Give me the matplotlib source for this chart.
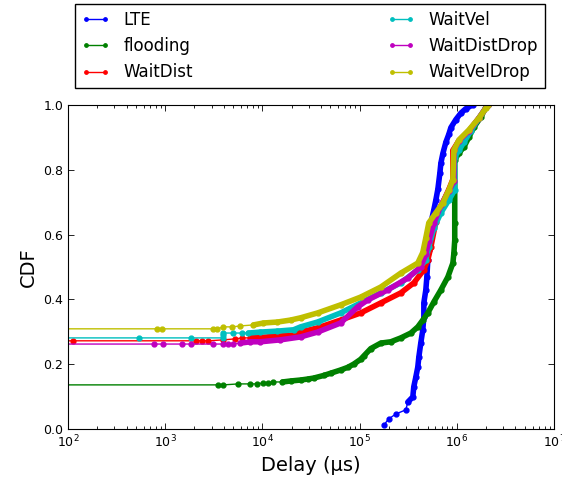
import numpy as np
from matplotlib import pyplot as plt

# delay (us) / CDF pairs for every scheme
lte_delay = [1.77e5, 1.99e5, 2.35e5, 2.98e5, 3.13e5, 3.52e5, 3.60e5, 3.78e5, 3.96e5, 4.06e5,
             4.25e5, 4.46e5, 4.57e5, 4.57e5, 4.79e5, 4.91e5, 5.02e5, 5.14e5, 5.27e5, 5.40e5,
             5.79e5, 6.08e5, 6.37e5, 6.68e5, 6.84e5, 7.17e5, 7.70e5, 8.27e5, 8.67e5, 9.77e5,
             1.10e6, 1.23e6, 1.45e6]
lte_cdf = [0.012, 0.031, 0.046, 0.059, 0.083, 0.099, 0.130, 0.160, 0.191, 0.222,
           0.265, 0.306, 0.346, 0.389, 0.429, 0.469, 0.522, 0.552, 0.605, 0.636,
           0.676, 0.707, 0.740, 0.790, 0.820, 0.850, 0.885, 0.910, 0.930, 0.955,
           0.975, 0.988, 1.0]

flood_delay = [10, 3516, 3963, 5657, 7521, 8877, 10230, 11530, 12980, 16070,
               19430, 24660, 29120, 33590, 42560, 50230, 63700, 75210, 86730, 1.024e5,
               1.10e5, 1.30e5, 1.65e5, 2.09e5, 2.65e5, 3.36e5, 3.96e5, 4.46e5, 5.02e5, 5.79e5,
               6.84e5, 8.07e5, 9.09e5, 9.31e5, 9.5e5, 9.5e5, 9.5e5, 1.05e6, 1.18e6, 1.33e6,
               1.50e6, 1.77e6, 1.99e6, 2.09e6]
flood_cdf = [0.136, 0.136, 0.136, 0.139, 0.139, 0.139, 0.142, 0.142, 0.145, 0.145,
             0.148, 0.151, 0.154, 0.157, 0.165, 0.172, 0.182, 0.190, 0.200, 0.215,
             0.225, 0.248, 0.265, 0.269, 0.281, 0.296, 0.315, 0.336, 0.358, 0.392,
             0.429, 0.469, 0.512, 0.543, 0.583, 0.636, 0.830, 0.852, 0.870, 0.901,
             0.932, 0.963, 0.994, 1.0]

wdist_delay = [10, 112, 2089, 2406, 2773, 3963, 5268, 6224, 7521, 11270,
               20870, 24660, 36910, 63700, 1.024e5, 1.65e5, 2.65e5, 3.61e5, 4.57e5, 5.02e5,
               5.39e5, 6.08e5, 7.18e5, 8.28e5, 9.09e5, 9.09e5, 1.05e6, 1.33e6, 1.69e6, 2.09e6]
wdist_cdf = [0.272, 0.272, 0.272, 0.272, 0.272, 0.275, 0.278, 0.281, 0.281, 0.284,
             0.290, 0.299, 0.312, 0.336, 0.358, 0.389, 0.420, 0.451, 0.491, 0.522,
             0.560, 0.640, 0.700, 0.740, 0.770, 0.860, 0.890, 0.920, 0.960, 1.0]

wvel_delay = [10, 540, 1852, 3963, 3963, 3963, 5022, 6224, 7177, 9525,
              14280, 20870, 24660, 36910, 63700, 1.024e5, 1.65e5, 2.65e5, 3.96e5, 4.79e5,
              5.14e5, 5.79e5, 6.84e5, 8.28e5, 9.5e5, 9.5e5, 1.05e6, 1.18e6, 1.39e6, 1.69e6,
              2.09e6]
wvel_cdf = [0.281, 0.281, 0.281, 0.281, 0.290, 0.296, 0.296, 0.296, 0.296, 0.299,
            0.302, 0.306, 0.315, 0.330, 0.358, 0.389, 0.420, 0.451, 0.491, 0.522,
            0.562, 0.620, 0.667, 0.707, 0.738, 0.840, 0.860, 0.885, 0.920, 0.960,
            1.0]

wdistdrop_delay = [10, 771, 953, 1496, 1852, 3126, 3963, 4458, 5022, 5934,
                   7521, 9525, 15330, 24660, 36910, 63700, 95340, 1.21e5, 1.94e5, 3.13e5,
                   4.25e5, 4.79e5, 5.14e5, 5.79e5, 6.84e5, 8.27e5, 9.31e5, 9.31e5, 1.05e6, 1.33e6,
                   1.69e6, 2.09e6]
wdistdrop_cdf = [0.262, 0.262, 0.262, 0.262, 0.262, 0.262, 0.262, 0.262, 0.262, 0.265,
                 0.269, 0.269, 0.275, 0.284, 0.299, 0.327, 0.377, 0.398, 0.429, 0.466,
                 0.500, 0.540, 0.580, 0.635, 0.690, 0.735, 0.765, 0.860, 0.890, 0.920,
                 0.960, 1.0]

wveldrop_delay = [10, 828, 931, 3126, 3435, 3963, 4906, 5934, 8076, 10230,
                  14280, 19430, 24660, 36910, 63700, 1.024e5, 1.65e5, 2.65e5, 3.96e5, 4.46e5,
                  4.79e5, 5.14e5, 6.08e5, 7.18e5, 8.28e5, 9.09e5, 9.31e5, 1.05e6, 1.33e6, 1.69e6,
                  1.99e6, 2.09e6]
wveldrop_cdf = [0.309, 0.309, 0.309, 0.309, 0.309, 0.315, 0.315, 0.318, 0.321, 0.327,
                0.330, 0.336, 0.343, 0.358, 0.383, 0.407, 0.438, 0.481, 0.512, 0.545,
                0.590, 0.636, 0.667, 0.698, 0.738, 0.769, 0.861, 0.892, 0.923, 0.960,
                0.990, 1.0]

labels = ['LTE', 'flooding', 'WaitDist', 'WaitVel', 'WaitDistDrop', 'WaitVelDrop']
delays = [lte_delay, flood_delay, wdist_delay, wvel_delay, wdistdrop_delay, wveldrop_delay]
cdfs = [lte_cdf, flood_cdf, wdist_cdf, wvel_cdf, wdistdrop_cdf, wveldrop_cdf]
colors = ['b', 'g', 'r', 'c', 'm', 'y']
# beyond this delay the samples are so packed they form a solid band
dense_from = [3.1e5, 1.6e4, 7.0e3, 7.0e3, 5.9e3, 8.0e3]

plt.rcParams['font.family'] = 'DejaVu Sans'
plt.rcParams['xtick.direction'] = 'in'
plt.rcParams['ytick.direction'] = 'in'

fig = plt.figure(figsize=(5.62, 4.88), dpi=100)
ax = fig.add_axes([0.121, 0.121, 0.865, 0.664])

for d, c, lab, col, start in zip(delays, cdfs, labels, colors, dense_from):
    d = np.array(d)
    c = np.array(c)
    ax.plot(d, c, '.-', color=col, lw=1, ms=7, label=lab)
    m = d >= start
    ax.plot(d[m], c[m], '-', color=col, lw=4,
            solid_joinstyle='round', solid_capstyle='round')

ax.set_xscale('log')
ax.set_xlim(1e2, 1e7)
ax.set_ylim(0, 1)
ax.set_yticks(np.arange(0, 1.01, 0.2))
ax.tick_params(which='both', top=True, right=True, labelsize=9, width=0.6)
ax.tick_params(which='major', length=4)
ax.tick_params(which='minor', length=2)
ax.set_xlabel('Delay (µs)', fontsize=14)
ax.set_ylabel('CDF', fontsize=14)

ax.legend(ncol=2, loc='lower left', bbox_to_anchor=(0.014, 1.052, 0.967, 0.266),
          mode='expand', borderaxespad=0, fontsize=12, numpoints=2,
          handlelength=1.7, markerscale=0.7,
          fancybox=False, edgecolor='black', framealpha=1)

fig.savefig('out.png', dpi=100, facecolor='white')
